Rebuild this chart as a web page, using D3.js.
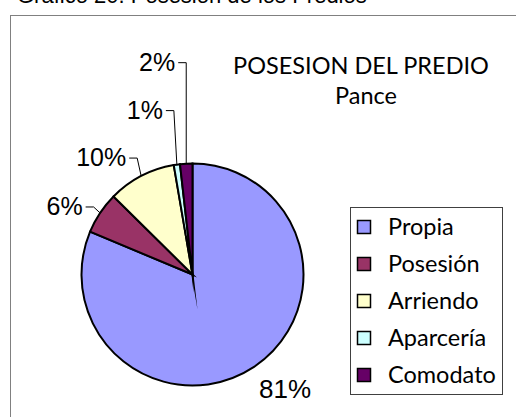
<!DOCTYPE html>
<html>
<head>
<meta charset="utf-8">
<script src="https://cdn.jsdelivr.net/npm/d3@7"></script>
<style>
  body { margin: 0; background: #fff; }
</style>
</head>
<body>
<div id="chart"></div>
<script>
var width = 516;
var height = 417;

// data
var categories = ["Propia", "Posesión", "Arriendo", "Aparcería", "Comodato"];
var values = [81.3, 6.1, 9.9, 0.9, 1.8];
var colors = ["#9999FF", "#993366", "#FFFFCC", "#CCFFFF", "#660066"];
// elbow of the leader line, relative to the slice's outer midpoint (null = no leader)
var leaderOffsets = [null, [-6.5, -6], [-4, -18], [-3, -54], [0, -101]];

var svg = d3.select("#chart")
    .append("svg")
    .attr("width", width)
    .attr("height", height);

// page caption, cut at the top
svg.append("text")
    .attr("x", 17)
    .attr("y", 3)
    .attr("font-family", "Liberation Sans, Arial, sans-serif")
    .attr("font-size", 22)
    .attr("fill", "#000")
    .text("Gráfico 20. Posesión de los Predios");

// chart frame
svg.append("rect")
    .attr("x", 10.5)
    .attr("y", 15.5)
    .attr("width", 520)
    .attr("height", 420)
    .attr("fill", "none")
    .attr("stroke", "#808080")
    .attr("stroke-width", 1);

// title
svg.append("text")
    .attr("x", 361)
    .attr("y", 74)
    .attr("text-anchor", "middle")
    .attr("font-family", "Lato, sans-serif")
    .attr("font-size", 23.5)
    .text("POSESION DEL PREDIO");
svg.append("text")
    .attr("x", 366)
    .attr("y", 104)
    .attr("text-anchor", "middle")
    .attr("font-family", "Lato, sans-serif")
    .attr("font-size", 23.5)
    .text("Pance");

var cx = 192.5, cy = 274.5, r = 111;

var pie = d3.pie().sort(null).value(function(d){ return d; });
var arcs = pie(values);
var arc = d3.arc().innerRadius(0).outerRadius(r);
var total = d3.sum(values);

var g = svg.append("g").attr("transform", "translate(" + cx + "," + cy + ")");

g.selectAll("path")
    .data(arcs)
    .enter()
        .append("path")
        .attr("d", arc)
        .attr("fill", function(d,i){ return colors[i]; })
        .attr("stroke", "#000")
        .attr("stroke-width", 2)
        .attr("stroke-linejoin", "miter")
        .attr("stroke-miterlimit", 60);

// labels
function outerPoint(d){
    var a = (d.startAngle + d.endAngle) / 2;
    return [r * Math.sin(a), -r * Math.cos(a)];
}

arcs.forEach(function(d,i){
    var p = outerPoint(d);
    var txt = Math.round(d.value / total * 100) + "%";
    var off = leaderOffsets[i];
    if (off === null) {
        g.append("text")
            .attr("x", p[0] + 5)
            .attr("y", p[1] + 31)
            .attr("font-family", "Liberation Sans, Arial, sans-serif")
            .attr("font-size", 26)
            .text(txt);
        return;
    }
    var ex = p[0] + off[0], ey = p[1] + off[1];
    g.append("polyline")
        .attr("points", [[ex - 8, ey], [ex, ey], p].map(function(q){ return q.join(","); }).join(" "))
        .attr("fill", "none")
        .attr("stroke", "#000")
        .attr("stroke-width", 1);
    g.append("text")
        .attr("x", ex - 11)
        .attr("y", ey + 8)
        .attr("text-anchor", "end")
        .attr("font-family", "Liberation Sans, Arial, sans-serif")
        .attr("font-size", 25)
        .text(txt);
});

// legend
var legend = svg.append("g").attr("transform", "translate(350.5,207.5)");
legend.append("rect")
    .attr("width", 152)
    .attr("height", 187)
    .attr("fill", "#fff")
    .attr("stroke", "#404040")
    .attr("stroke-width", 1);

var rows = legend.selectAll("g.row")
    .data(categories)
    .enter()
        .append("g")
        .attr("class", "row")
        .attr("transform", function(d,i){ return "translate(0," + (19.5 + i * 37) + ")"; });

rows.append("rect")
    .attr("x", 7)
    .attr("y", -6.5)
    .attr("width", 13)
    .attr("height", 13)
    .attr("fill", function(d,i){ return colors[i]; })
    .attr("stroke", "#000")
    .attr("stroke-width", 1.5);

rows.append("text")
    .attr("x", 37.5)
    .attr("y", 8)
    .attr("font-family", "Lato, sans-serif")
    .attr("font-size", 23.5)
    .text(function(d){ return d; });
</script>
</body>
</html>
